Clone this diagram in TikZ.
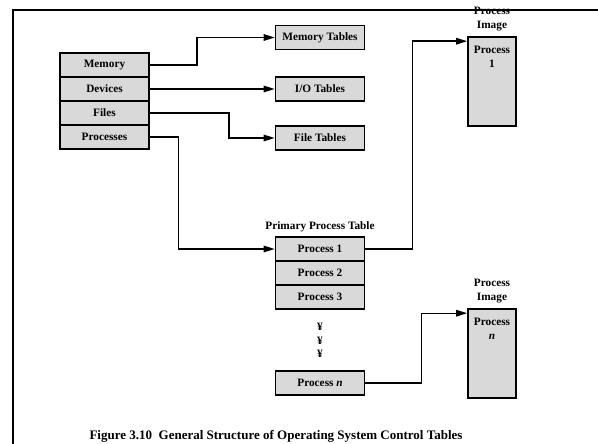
\documentclass[tikz,border=0pt]{standalone}
\usepackage{fontspec}
\setmainfont{Liberation Serif}
\usetikzlibrary{arrows.meta}
\definecolor{boxgray}{HTML}{D9D9D9}
\begin{document}
\begin{tikzpicture}[x=1pt,y=-1pt,
  lbl/.style={font=\bfseries\fontsize{11.3}{14}\selectfont},
  cell/.style={lbl, draw, fill=boxgray, line width=1.6pt, inner sep=0pt,
               minimum width=89pt, minimum height=24pt},
  imgbox/.style={draw, fill=boxgray, line width=1.6pt, inner sep=0pt,
                 minimum width=48pt, minimum height=89pt},
  conn/.style={line width=1.4pt, -{Triangle[length=11pt,width=6.5pt]}}]
\useasboundingbox (0,0) rectangle (598,444);

% frame
\draw[line width=2pt] (12.5,444) -- (12.5,10.5) -- (598,10.5);

% control table
\node[cell] (mem)  at (104.5,65)  {Memory};
\node[cell] (dev)  at (104.5,89)  {Devices};
\node[cell] (fil)  at (104.5,113) {Files};
\node[cell] (proc) at (104.5,137) {Processes};

% tables
\node[cell] (memtab)  at (320,37.5) {Memory Tables};
\node[cell] (iotab)   at (320,89)   {I/O Tables};
\node[cell] (filetab) at (320,138)  {File Tables};

% primary process table
\node[lbl] (ppttitle) at (320,227) {Primary Process Table};
\node[cell] (p1) at (320,249) {Process 1};
\node[cell] (p2) at (320,273) {Process 2};
\node[cell] (p3) at (320,297) {Process 3};
\node[lbl] (d1) at (320,327) {¥};
\node[lbl] (d2) at (320,340.5) {¥};
\node[lbl] (d3) at (320,354) {¥};
\node[cell] (pn) at (320,383) {Process \textit{n}};

% process images
\node[lbl, align=center, anchor=south] (img1title) at (492,35) {Process\\Image};
\node[imgbox] (img1) at (492,81.5) {};
\node[lbl, align=center, anchor=north] (img1txt) at ([yshift=-6pt]img1.north) {Process\\1};

\node[lbl, align=center, anchor=south] (imgntitle) at (492,307) {Process\\Image};
\node[imgbox] (imgn) at (492,353.5) {};
\node[lbl, align=center, anchor=north] (imgntxt) at ([yshift=-6pt]imgn.north) {Process\\\textit{n}};

% connectors
\draw[conn] (mem.east) -- ++(47,0) |- (memtab.west);
\draw[conn] (dev.east) -- (iotab.west);
\draw[conn] (fil.east) -- ++(79,0) |- (filetab.west);
\draw[conn] (proc.east) -- ++(28.5,0) |- (p1.west);
\draw[conn] (p1.east) -- ++(47,0) |- ([yshift=-5pt]img1.north west);
\draw[conn] (pn.east) -- ++(56,0) |- ([yshift=-5pt]imgn.north west);

% caption
\node[font=\bfseries\fontsize{13}{15}\selectfont] (caption) at (276,436)
  {Figure 3.10\ \ General Structure of Operating System Control Tables};
\end{tikzpicture}
\end{document}
